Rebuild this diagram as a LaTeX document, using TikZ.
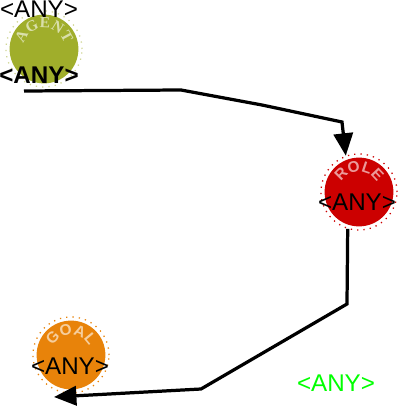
\documentclass[tikz,border=0pt]{standalone}
\usepackage{fontspec}
\setmainfont{Liberation Sans}
\newfontfamily\capsfont{Liberation Serif}
\usetikzlibrary{arrows.meta,decorations.text}
\definecolor{agentcol}{HTML}{A0AE2B}
\definecolor{rolecol}{HTML}{CC0000}
\definecolor{goalcol}{HTML}{E8830A}
\begin{document}
\begin{tikzpicture}[font=\fontsize{17.2}{20}\selectfont, >={Triangle[length=5.6mm,width=4.8mm]},
		disc/.style={circle, draw=none, inner sep=0pt, minimum size=17.2mm},
		ring/.style={circle, draw, line width=0.9pt, dash pattern=on 0.9pt off 3.6pt, inner sep=0pt, minimum size=19mm},
		lbl/.style={inner sep=0pt},
		link/.style={line width=2.3pt, line join=miter},
		arc/.style={decorate, decoration={text along path, text align=center, text={#1}}}]
	\useasboundingbox (0,0) rectangle (10,10.15);
	% the three discs with their dotted rings
	\node[disc, fill=agentcol] (agent) at (1.1,8.925) {};
	\node[ring, draw=agentcol!50] (agentr) at (agent) {};
	\node[disc, fill=rolecol] (role) at (8.975,5.35) {};
	\node[ring, draw=rolecol] (roler) at (role) {};
	\node[disc, fill=goalcol] (goal) at (1.775,1.275) {};
	\node[ring, draw=goalcol] (goalr) at (goal) {};
	% names bent over the top of each disc
	\path[arc={|\fontsize{11}{11}\selectfont\capsfont\bfseries\color{agentcol!40!white}|AGENT}] ([shift={(160:0.52)}]agent.center) arc (160:20:0.52);
	\path[arc={|\fontsize{11}{11}\selectfont\bfseries\color{rolecol!40!white}|ROLE}] ([shift={(160:0.5)}]role.center) arc (160:20:0.5);
	\path[arc={|\fontsize{11}{11}\selectfont\bfseries\color{goalcol!40!white}|GOAL}] ([shift={(160:0.5)}]goal.center) arc (160:20:0.5);
	% labels
	\node[lbl] (agenttop) at (0.975,9.925) {<ANY>};
	\node[lbl, font=\fontsize{17.2}{20}\selectfont\bfseries] (agentany) at (0.975,8.275) {<ANY>};
	\node[lbl] (roleany) at (8.925,5.1) {<ANY>};
	\node[lbl] (goalany) at (1.75,0.99) {<ANY>};
	\node[lbl, text=green] (freeany) at (8.4,0.575) {<ANY>};
	% connectors
	\coordinate (agentout) at (0.6,7.875);
	\coordinate (goalin) at (1.35,0.225);
	\draw[link, ->] (agentout) -- (4.525,7.9) -- (6.55,7.525) -- (8.55,7.1) -- (roler.110);
	\draw[link, ->] (roler.253) -- (8.675,2.55) -- (5.025,0.425) -- (goalin);
\end{tikzpicture}
\end{document}
